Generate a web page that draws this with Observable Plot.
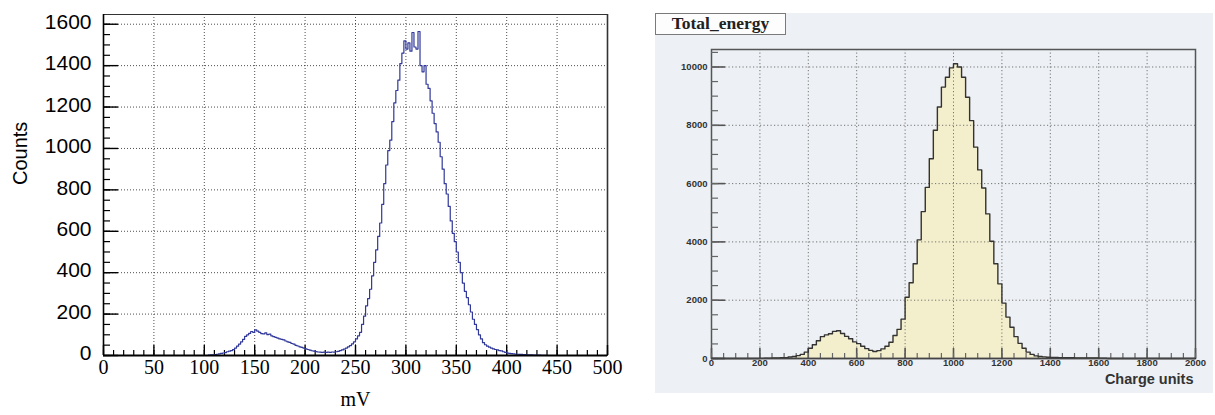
<!DOCTYPE html>
<html><head><meta charset="utf-8">
<script src="https://cdn.jsdelivr.net/npm/d3@7"></script>
<script src="https://cdn.jsdelivr.net/npm/@observablehq/plot@0.6"></script>
<style>
html,body{margin:0;padding:0;background:#fff;}
#root{position:relative;width:1215px;height:415px;overflow:hidden;background:#fff;}
#left{position:absolute;left:0;top:0;}
#panel{position:absolute;left:655px;top:13px;width:558px;height:380px;background:#edf0f4;}
#right{position:absolute;left:640px;top:0;}
#title{position:absolute;left:655px;top:13px;width:129px;height:20px;background:#fdfdfd;border:1px solid #7a7a7a;font:bold 17.5px "Liberation Serif",serif;text-align:center;line-height:19px;color:#222;}
</style></head><body>
<div id="root"><div id="left"></div><div id="panel"></div><div id="right"></div><div id="title">Total_energy</div></div>
<script>
// ---------- Left panel data (mV histogram, 2 mV bins starting at 100 mV) ----------
const mvDomain = [0, 500];
const mvBinStart = 100;
const mvBinWidth = 2;
const mvCounts = [
  0, 0, 2, 3, 3, 4, 6, 8, 10, 12,          // 100-118
  14, 18, 21, 24, 28, 36, 45, 55, 66, 78,  // 120-138
  92, 100, 107, 116, 112, 124, 118, 112, 106, 104, // 140-158
  109, 101, 103, 95, 91, 88, 84, 80, 78, 75,       // 160-178
  70, 66, 63, 58, 55, 49, 46, 42, 39, 35,          // 180-198
  32, 29, 26, 23, 21, 19, 17, 16, 15, 16,          // 200-218
  15, 16, 15, 17, 16, 18, 20, 24, 27, 31,          // 220-238
  36, 42, 48, 56, 66, 80, 95, 112, 150, 190,       // 240-258
  240, 275, 320, 385, 450, 510, 575, 640, 730, 830, // 260-278
  920, 990, 1040, 1130, 1220, 1280, 1330, 1410, 1460, 1520, // 280-298
  1480, 1510, 1470, 1560, 1490, 1480, 1565, 1400, 1370, 1400, // 300-318
  1310, 1290, 1230, 1170, 1120, 1080, 1030, 960, 900, 830,   // 320-338
  780, 720, 650, 590, 550, 500, 450, 400, 350, 310,          // 340-358
  280, 245, 210, 175, 150, 125, 100, 80, 62, 52,             // 360-378
  45, 40, 36, 32, 29, 27, 24, 22, 18, 15,                    // 380-398
  12, 10, 9, 8, 7, 6, 5, 5, 4, 4,                            // 400-418
  3, 3, 3, 2, 2, 2, 2, 1, 1, 1                               // 420-438
];
const countsMax = 1647;
const countsTicks = [0, 200, 400, 600, 800, 1000, 1200, 1400, 1600];
const countsMinor = d3.range(0, 1650, 50);
const mvTicks = [0, 50, 100, 150, 200, 250, 300, 350, 400, 450, 500];
const mvMinor = d3.range(0, 501, 10);

// ---------- Right panel data (Total_energy, 120 bins over 0-2000) ----------
const chargeDomain = [0, 2000];
const chargeBins = 120;
const energyCounts = [
  0, 0, 0, 0, 0, 0, 0, 0, 0, 0,
  0, 0, 5, 10, 12, 15, 20, 25, 30, 50,
  70, 100, 140, 220, 350, 470, 610, 750, 810, 850,
  930, 950, 860, 760, 680, 570, 510, 420, 340, 280,
  240, 270, 330, 420, 560, 790, 1000, 1350, 2100, 2600,
  3250, 4070, 5040, 5870, 6850, 7830, 8630, 9310, 9650, 9970,
  10110, 10000, 9650, 8960, 8160, 7250, 6470, 5850, 4960, 4020,
  3250, 2560, 1900, 1420, 1070, 750, 520, 350, 220, 140,
  90, 70, 55, 45, 40, 35, 30, 30, 25, 25,
  20, 20, 20, 15, 15, 15, 10, 10, 0, 0,
  0, 0, 0, 0, 0, 0, 0, 0, 0, 0,
  0, 0, 0, 0, 0, 0, 0, 0, 0, 0
];
const energyMax = 10600;
const energyTicks = [0, 2000, 4000, 6000, 8000, 10000];
const energyMinor = d3.range(0, 10600, 500);
const chargeTicks = [0, 200, 400, 600, 800, 1000, 1200, 1400, 1600, 1800, 2000];
const chargeMinor = d3.range(0, 2001, 50);

// ---------- Build tables ----------
const mvTable = mvCounts.map((c, i) => ({x: mvBinStart + i * mvBinWidth, y: c}));
mvTable.push({x: mvBinStart + mvCounts.length * mvBinWidth, y: mvCounts[mvCounts.length - 1]});
const chargeWidth = (chargeDomain[1] - chargeDomain[0]) / chargeBins;
const energyTable = energyCounts.map((c, i) => ({x: chargeDomain[0] + i * chargeWidth, y: c}));
energyTable.push({x: chargeDomain[1], y: energyCounts[energyCounts.length - 1]});

// ---------- Left plot ----------
{
  const width = 640, height = 415;
  const mL = 103, mR = 33, mT = 14, mB = 60;
  const W = width - mL - mR, H = height - mT - mB;
  const sans = "'Liberation Sans', Arial, Helvetica, sans-serif";
  const serif = "'Liberation Serif', 'Times New Roman', serif";
  const p = Plot.plot({
    width, height, marginLeft: mL, marginRight: mR, marginTop: mT, marginBottom: mB,
    style: {background: "none", overflow: "visible"},
    x: {domain: mvDomain, axis: null},
    y: {domain: [0, countsMax], axis: null},
    marks: [
      Plot.ruleY(countsTicks.filter(d => d > 0), {y: d => d, stroke: "#222", strokeDasharray: "1,2", strokeWidth: 1, strokeOpacity: 0.8}),
      Plot.ruleX(mvTicks.filter(d => d > 0 && d < 500), {x: d => d, stroke: "#222", strokeDasharray: "1,2", strokeWidth: 1, strokeOpacity: 0.8}),
      Plot.frame({stroke: "#333", strokeWidth: 1}),
      Plot.ruleX([500], {x: d => d, stroke: "#333", strokeWidth: 1.6}),
      Plot.tickY(countsTicks, {y: d => d, insetRight: W - 15, stroke: "#000", strokeWidth: 1.4}),
      Plot.tickY(countsMinor, {y: d => d, insetRight: W - 7, stroke: "#000", strokeWidth: 1.2}),
      Plot.tickX(mvTicks, {x: d => d, insetTop: H - 10, stroke: "#000", strokeWidth: 1.4}),
      Plot.tickX(mvMinor, {x: d => d, insetTop: H - 5, stroke: "#000", strokeWidth: 1.2}),
      Plot.line(mvTable, {x: "x", y: "y", curve: "step-after", stroke: "#30389a", strokeWidth: 1.2}),
      Plot.ruleX([0], {x: d => d, stroke: "#000", strokeWidth: 1.6}),
      Plot.ruleY([0], {y: d => d, stroke: "#000", strokeWidth: 2}),
      Plot.text(countsTicks, {y: d => d, text: d => String(d), frameAnchor: "left", textAnchor: "end", dx: -12, dy: -2, fontSize: 21, fontFamily: sans, fill: "#000"}),
      Plot.text(mvTicks, {x: d => d, text: d => String(d), frameAnchor: "bottom", dy: 18, fontSize: 20, fontFamily: serif, fill: "#000"}),
      Plot.text(["mV"], {text: d => d, frameAnchor: "bottom", dy: 50, fontSize: 20, fontFamily: serif, fill: "#000"}),
      Plot.text(["Counts"], {text: d => d, frameAnchor: "left", dx: -83, rotate: -90, fontSize: 20, fontFamily: sans, fill: "#000"})
    ]
  });
  document.getElementById("left").appendChild(p);
}

// ---------- Right plot ----------
{
  const width = 575, height = 415;
  const mL = 71, mR = 20, mT = 49, mB = 57;
  const W = width - mL - mR, H = height - mT - mB;
  const sans = "'Liberation Sans', Arial, Helvetica, sans-serif";
  const p = Plot.plot({
    width, height, marginLeft: mL, marginRight: mR, marginTop: mT, marginBottom: mB,
    style: {background: "none", overflow: "visible"},
    x: {domain: chargeDomain, axis: null},
    y: {domain: [0, energyMax], axis: null},
    marks: [
      Plot.areaY(energyTable, {x: "x", y: "y", curve: "step-after", fill: "#f3efcd"}),
      Plot.ruleY(energyTicks.filter(d => d > 0), {y: d => d, stroke: "#555", strokeDasharray: "1.2,2.3", strokeWidth: 1, strokeOpacity: 0.8}),
      Plot.ruleX(chargeTicks.filter(d => d > 0 && d < 2000), {x: d => d, stroke: "#555", strokeDasharray: "1.2,2.3", strokeWidth: 1, strokeOpacity: 0.8}),
      Plot.frame({stroke: "#555", strokeWidth: 1.5}),
      Plot.tickY(energyTicks, {y: d => d, insetRight: W - 14, stroke: "#555", strokeWidth: 1.6}),
      Plot.tickY(energyMinor, {y: d => d, insetRight: W - 7, stroke: "#666", strokeWidth: 1.2}),
      Plot.tickX(chargeTicks, {x: d => d, insetTop: H - 10, stroke: "#555", strokeWidth: 1.6}),
      Plot.tickX(chargeMinor, {x: d => d, insetTop: H - 5, stroke: "#666", strokeWidth: 1.2}),
      Plot.line(energyTable, {x: "x", y: "y", curve: "step-after", stroke: "#333", strokeWidth: 1.4}),
      Plot.ruleY([0], {y: d => d, stroke: "#444", strokeWidth: 1.6}),
      Plot.text(energyTicks, {y: d => d, text: d => String(d), frameAnchor: "left", textAnchor: "end", dx: -4, fontSize: 9.5, fontWeight: "bold", fontFamily: sans, fill: "#333"}),
      Plot.text(chargeTicks, {x: d => d, text: d => String(d), frameAnchor: "bottom", dy: 7, fontSize: 9.5, fontWeight: "bold", fontFamily: sans, fill: "#333"}),
      Plot.text(["Charge units"], {text: d => d, frameAnchor: "bottom-right", textAnchor: "end", dx: -2, dy: 25, fontSize: 14.5, fontWeight: "bold", fontFamily: sans, fill: "#333"})
    ]
  });
  document.getElementById("right").appendChild(p);
}
</script></body></html>
